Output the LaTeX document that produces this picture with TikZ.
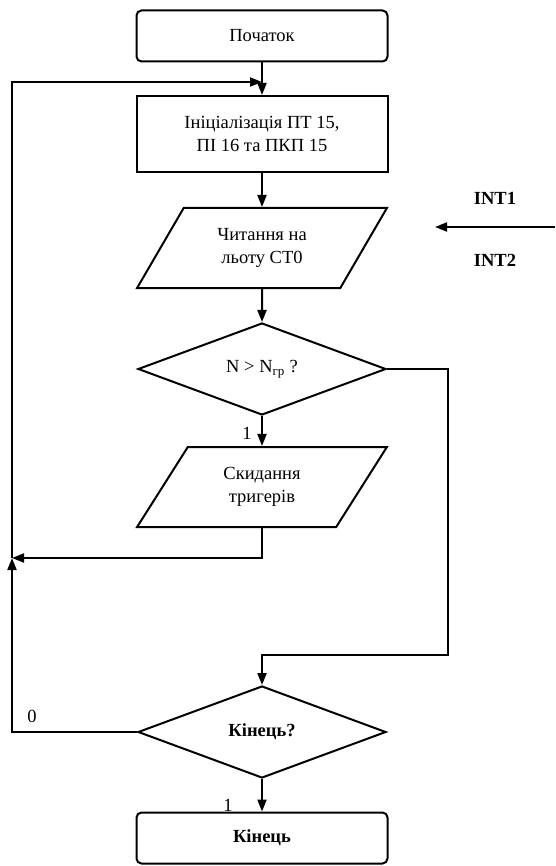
\documentclass[tikz,border=0pt]{standalone}
\usepackage{fontspec}
\setmainfont{Liberation Serif}
\usetikzlibrary{arrows.meta,shapes.geometric}

\begin{document}
\begin{tikzpicture}
    [   > = {Triangle[length=12pt,width=9pt]}
    ,   line width = 2pt
    ,   every node/.style = {font=\fontsize{18.5}{23}\selectfont}
    ,   terminal/.style =
        {   draw
        ,   rounded corners = 5pt
        ,   minimum width = 251pt
        ,   minimum height = 51pt
        }
    ,   process/.style =
        {   draw
        ,   minimum width = 251pt
        ,   minimum height = 76pt
        ,   align = center
        }
    ,   inout/.style =
        {   draw
        ,   trapezium
        ,   trapezium left angle = 58
        ,   trapezium right angle = 122
        ,   trapezium stretches = true
        ,   minimum width = 250pt
        ,   minimum height = 80pt
        ,   align = center
        }
    ,   decision/.style =
        {   draw
        ,   diamond
        ,   aspect = 2.6
        ,   inner sep = 0pt
        ,   minimum width = 248pt
        ,   minimum height = 92pt
        }
    ]
    \useasboundingbox (0pt,0pt) rectangle (555pt,-866pt);

    \node[terminal] (start) at (262pt, -36pt) {Початок};
    \node[process]  (init)  at (262pt,-134pt) {Ініціалізація ПТ 15,\\ПІ 16 та ПКП 15};
    \node[inout]    (read)  at (262pt,-248pt) {Читання на\\льоту СТ0};
    \node[decision] (cmp)   at (262pt,-369pt) {N > N\textsubscript{гр} ?};
    \node[inout]    (reset) at (262pt,-487pt) {Скидання\\тригерів};
    \node[decision] (fin)   at (262pt,-732pt) {\textbf{Кінець?}};
    \node[terminal] (end)   at (262pt,-838pt) {\textbf{Кінець}};

    \node (int1) at (495pt,-198pt) {\textbf{INT1}};
    \node (int2) at (495pt,-260pt) {\textbf{INT2}};
    \node (yes1) at (247pt,-433pt) {1};
    \node (yes2) at (228pt,-805pt) {1};
    \node (no2)  at ( 32pt,-716pt) {0};

    \coordinate (join)  at (262pt, -82pt);
    \coordinate (loop)  at ( 12pt,-558pt);
    \coordinate (rbot)  at (448pt,-655pt);
    \coordinate (intin) at (555pt,-227pt);
    \coordinate (intto) at (435pt,-227pt);

    \draw[->] (start) -- (init);
    \draw[->] (init) -- (read);
    \draw[->] (read) -- (cmp);
    \draw[->] (cmp) -- (reset);
    \draw[->] (fin) -- (end);
    \draw[->] (reset.center |- reset.south) |- (loop);
    \draw[->] (fin.west) -| (loop);
    \draw[->] (loop) |- (join);
    \draw[->] (cmp.east) -| (rbot) -| (fin.north);
    \draw[->] (intin) -- (intto);

\end{tikzpicture}
\end{document}
